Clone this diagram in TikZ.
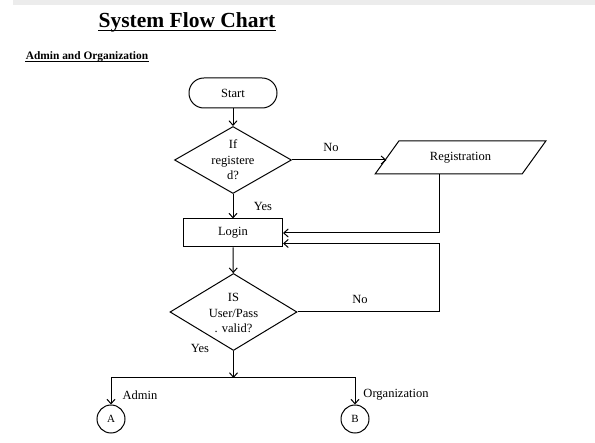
\documentclass[tikz,border=0pt]{standalone}
\usepackage{fontspec}
\setmainfont{Liberation Serif}
\usetikzlibrary{shapes.geometric,arrows.meta}

\begin{document}
\begin{tikzpicture}[x=1pt,y=-1pt,line width=1pt,
    >={Straight Barb[length=4.5pt,width=8pt]},
    txt/.style={font=\fontsize{12.5}{15.5}\selectfont},
    terminal/.style={draw,rectangle,rounded corners=14.9pt,minimum width=88pt,minimum height=30pt,inner sep=0pt,txt},
    decision/.style={draw,diamond,inner sep=0pt},
    process/.style={draw,rectangle,minimum width=99pt,minimum height=28pt,inner sep=0pt,txt},
    io/.style={draw,trapezium,trapezium left angle=43,trapezium right angle=137,trapezium stretches=true,
        minimum width=171pt,minimum height=33pt,inner sep=0pt,txt},
    connector/.style={draw,circle,minimum size=28pt,inner sep=0pt,font=\fontsize{11}{13}\selectfont},
    tag/.style={inner sep=0pt,txt}]

        \useasboundingbox (0,0) rectangle (595,443);

        %grey strip on top of the page
        \fill[gray!15] (13,0) rectangle (595,5);

        %Headings
        \node[inner sep=0pt,font=\bfseries\fontsize{21.5}{24}\selectfont] (title) at (187,22) {System Flow Chart};
        \draw[line width=1.6pt] ([yshift=-3.2pt]title.base west) -- ([yshift=-3.2pt]title.base east);
        \node[inner sep=0pt,font=\bfseries\fontsize{11.4}{13}\selectfont] (subtitle) at (87,57) {Admin and Organization};
        \draw[line width=0.8pt] ([yshift=-2pt]subtitle.base west) -- ([yshift=-2pt]subtitle.base east);

        %Flow chart blocks
        \node[terminal] (start) at (233,93) {Start};
        \node[decision,minimum width=117pt,minimum height=67pt,
            label={[txt,align=center]center:If\\registere\\d?}] (isreg) at (233,160) {};
        \node[io] (regis) at (460.5,157.5) {Registration};
        \node[process] (login) at (233,233) {Login};
        \node[decision,minimum width=127pt,minimum height=77pt,
            label={[txt,align=center,yshift=-1pt]center:IS\\User/Pass\\. valid?}] (valid) at (233.5,312) {};
        \node[connector] (circA) at (111,419) {A};
        \node[connector] (circB) at (355,419) {B};

        %helper points for the lines
        \coordinate (loopx) at (439,233);
        \coordinate (loopin) at ([yshift=-10.5pt]login.east);
        \coordinate (split) at (233.5,378);

        %Connecting arrows
        \draw[->] (start) -- (isreg);
        \draw[->] (isreg) -- (login);
        \draw[->] (isreg.east) -- (isreg.east -| regis.west);
        \draw[->] (regis.south -| loopx) |- (login.east);
        \draw[->] (login) -- (valid);
        \draw[->] (valid.east) -| (loopin -| loopx) -- (loopin);
        \draw[->] (valid) -- (split);
        \draw[->] (split) -| (circA);
        \draw[->] (split) -| (circB);

        %Labels on the arrows
        \node[tag] (no1) at (331,147) {No};
        \node[tag] (yes1) at (263,206) {Yes};
        \node[tag] (no2) at (360,299) {No};
        \node[tag] (yes2) at (200,348) {Yes};
        \node[tag] (admin) at (140,395) {Admin};
        \node[tag] (org) at (396,395) {Organization};

    \end{tikzpicture}
\end{document}
